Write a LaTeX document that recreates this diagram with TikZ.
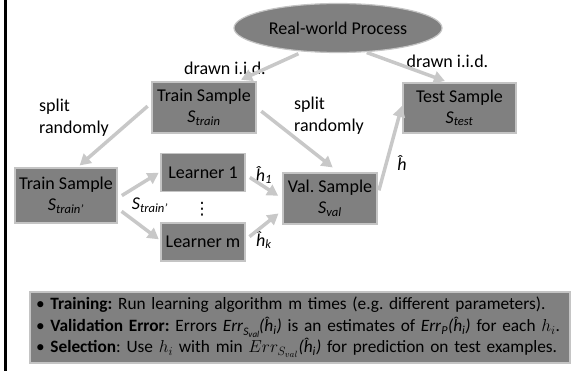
\documentclass[tikz,border=0pt]{standalone}
\usepackage{fontspec}
\setmainfont{Carlito}
\newfontfamily\symfont{DejaVu Sans}
\usetikzlibrary{shapes.geometric, arrows.meta}
\definecolor{boxgray}{RGB}{128,128,128}
\definecolor{edgegray}{RGB}{196,196,196}
\definecolor{flowgray}{RGB}{200,200,200}
\frenchspacing

% italic subscript and hatted hypothesis
\newcommand{\subsm}[1]{\textsubscript{\textit{#1}}}
\newcommand{\hh}[1]{\textit{ĥ}\subsm{#1}}
\newcommand{\errval}{\textit{Err}\raisebox{-0.45ex}{\fontsize{11.5}{12}\selectfont\textit{S}\raisebox{-0.35ex}{\fontsize{9}{9}\selectfont\textit{val}}}}

\begin{document}
\begin{tikzpicture}[
    x=1pt, y=-1pt,
    sample/.style 2 args={draw=edgegray, line width=1.2pt, fill=boxgray, minimum width=#1, minimum height=#2, inner sep=0pt, align=center, font=\fontsize{18}{21}\selectfont},
    procnode/.style={draw=edgegray, line width=1.2pt, fill=boxgray, ellipse, minimum width=208pt, minimum height=49pt, inner sep=0pt, font=\fontsize{18}{21}\selectfont},
    notebox/.style={draw=edgegray, line width=1.2pt, fill=boxgray, minimum width=540pt, minimum height=71pt, text width=528pt, inner xsep=6pt, align=left, font=\fontsize{17.3}{21.5}\selectfont},
    lbl/.style={inner sep=0pt, font=\fontsize{18}{22}\selectfont},
    flow/.style={draw=flowgray, line width=3.5pt, -{Triangle[length=11pt, width=12pt]}}
]
    \useasboundingbox (0,0) rectangle (587,371);
    \draw[line width=2.7pt] (5.3,0) -- (5.3,371);

    % Process and samples
    \node[procnode] (process) at (338,28) {Real-world Process};
    \node[sample={104pt}{51pt}] (train) at (204,107.5) {Train Sample\\\textit{S}\subsm{train}};
    \node[sample={113pt}{50pt}] (test) at (459.5,108) {Test Sample\\\textit{S}\subsm{test}};
    \node[sample={102pt}{55pt}] (trainp) at (66,195.5) {Train Sample\\\textit{S}\subsm{train'}};
    \node[sample={94pt}{51pt}] (val) at (330,198.5) {Val. Sample\\\textit{S}\subsm{val}};

    % Learners
    \node[sample={84pt}{38pt}] (learnA) at (203,172.5) {Learner 1};
    \node[sample={84pt}{38pt}] (learnB) at (203,242) {Learner m};
    \node[lbl, font=\symfont\fontsize{17}{20}\selectfont] (dots) at (202,209) {⋮};

    % Edge labels
    \node[lbl] (drawA) at (225,68.5) {drawn i.i.d.};
    \node[lbl] (drawB) at (447.5,61.5) {drawn i.i.d.};
    \node[lbl, anchor=west, align=left] (splitA) at (39,118) {split\\randomly};
    \node[lbl, anchor=west, align=left] (splitB) at (294,115.5) {split\\randomly};
    \node[lbl] (strainp) at (150,205) {\textit{S}\subsm{train'}};
    \node[lbl] (hfirst) at (264,175) {\hh{1}};
    \node[lbl] (hlast) at (264,240) {\hh{k}};
    \node[lbl] (hsel) at (402,163) {\textit{ĥ}};

    % Connections
    \draw[flow, shorten <=5pt, shorten >=4pt] (process.214) -- (train.38);
    \draw[flow, shorten <=1pt, shorten >=4pt] (process.319) -- (test.113);
    \draw[flow, shorten <=5pt, shorten >=3pt] (train.175) -- (trainp.68);
    \draw[flow, shorten <=6pt, shorten >=8pt] (train.east) -- (val.71);
    \draw[flow, shorten <=5pt, shorten >=2pt] (trainp.357) -- (learnA.179);
    \draw[flow, shorten <=5pt, shorten >=2pt] (trainp.346) -- (learnB.178);
    \draw[flow, shorten <=5pt, shorten >=5pt] (learnA.357) -- (val.west);
    \draw[flow, shorten <=5pt, shorten >=5pt] (learnB.3) -- (val.194);
    \draw[flow, shorten <=5pt, shorten >=2pt] (val.4) -- (test.176);

    % Summary
    \node[notebox] (notes) at (300,327.5) {\textbullet{} \textbf{Training:} Run learning algorithm m times (e.g. different parameters).\\
    \textbullet{} \textbf{Validation Error:} Errors \errval\textit{(}\hh{i}\textit{)} is an estimates of \textit{Err}\subsm{P}\textit{(}\hh{i}\textit{)} for each $h_i$.\\
    \textbullet{} \textbf{Selection}: Use $h_i$ with min $Err_{S_{val}}$\textit{(}\hh{i}\textit{)} for prediction on test examples.};
\end{tikzpicture}
\end{document}
